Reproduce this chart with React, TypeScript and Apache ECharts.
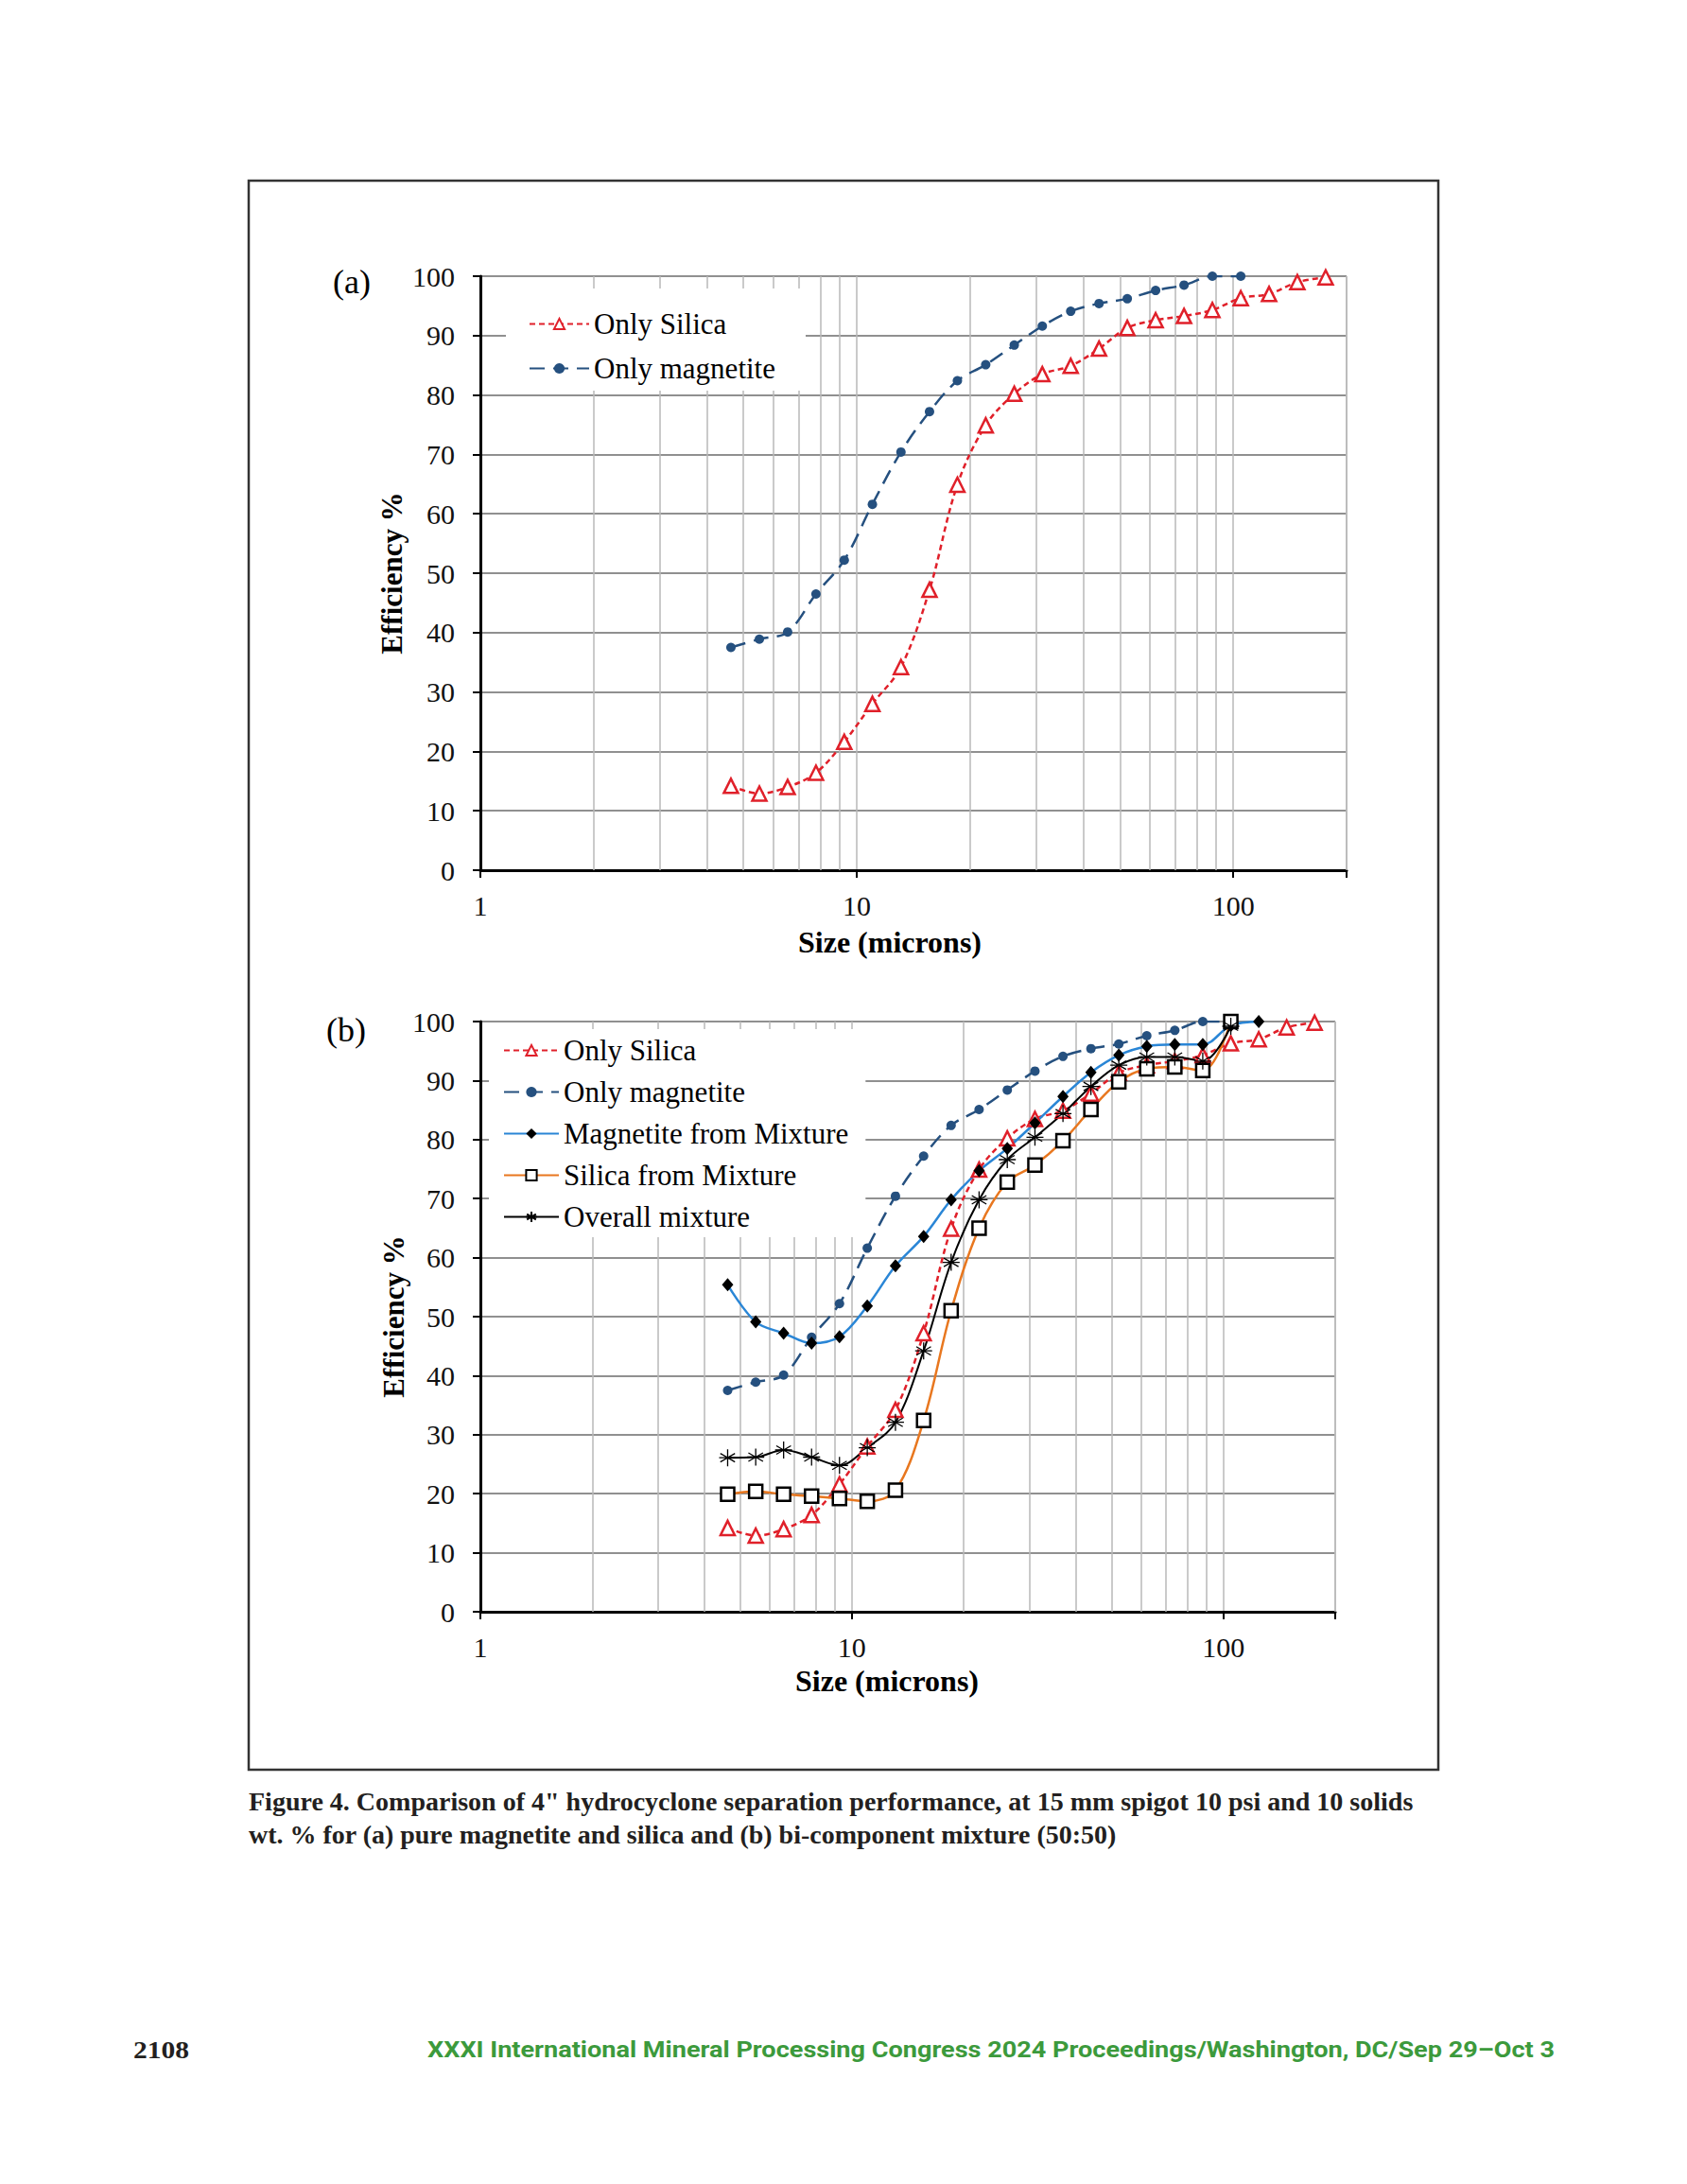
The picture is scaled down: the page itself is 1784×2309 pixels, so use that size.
import React, { useEffect, useRef } from "react";
import * as echarts from "echarts";

const SERIF = "'Liberation Serif', 'Times New Roman', serif";

// Particle sizes (microns)
const sizes = [4.63, 5.51, 6.55, 7.79, 9.26, 11.0, 13.1, 15.6, 18.5, 22.0, 26.2, 31.1, 37.0, 44.0, 52.3, 62.2, 74.0, 88.0, 104.7, 124.5, 148.0, 176.0];

// Efficiency % values
const onlySilica = [14.2, 12.9, 14.0, 16.4, 21.6, 28.0, 34.2, 47.2, 64.9, 74.9, 80.2, 83.5, 84.9, 87.8, 91.3, 92.6, 93.3, 94.3, 96.3, 97.0, 99.0, 99.8];
const onlyMagnetite = [37.5, 38.9, 40.1, 46.5, 52.2, 61.6, 70.4, 77.2, 82.4, 85.1, 88.4, 91.6, 94.1, 95.4, 96.2, 97.6, 98.5, 100, 100];
const magnetiteMix = [55.4, 49.1, 47.2, 45.5, 46.6, 51.8, 58.6, 63.6, 69.8, 74.7, 78.5, 82.8, 87.3, 91.4, 94.3, 95.8, 96.1, 96.1, 99.3, 100];
const silicaMix = [19.9, 20.4, 19.9, 19.6, 19.2, 18.7, 20.6, 32.4, 51.0, 65.0, 72.8, 75.7, 79.8, 85.1, 89.8, 92.0, 92.3, 91.7, 100];
const overallMix = [26.1, 26.2, 27.4, 26.2, 24.8, 27.8, 32.1, 44.2, 59.2, 69.8, 76.6, 80.4, 84.4, 89.0, 92.6, 94.0, 94.0, 93.3, 99.2];

const xMajorLabels = [1, 10, 100];
const xMinorGrid = [2, 3, 4, 5, 6, 7, 8, 9, 20, 30, 40, 50, 60, 70, 80, 90, 200];

const legendA = ["Only Silica", "Only magnetite"];
const legendB = ["Only Silica", "Only magnetite", "Magnetite from Mixture", "Silica from Mixture", "Overall mixture"];

const captionLine1 = 'Figure 4. Comparison of 4" hydrocyclone separation performance, at 15 mm spigot 10 psi and 10 solids';
const captionLine2 = "wt. % for (a) pure magnetite and silica and (b) bi-component mixture (50:50)";
const footerText = "XXXI International Mineral Processing Congress 2024 Proceedings/Washington, DC/Sep 29\u2013Oct 3";
const pageNumber = "2108";

const pairs = (vals: number[]) => vals.map((v, i) => [sizes[i], v]);

const ASTERISK = "path://M5,0L5,10M0.7,2.5L9.3,7.5M0.7,7.5L9.3,2.5M0,5L10,5";

function fitScale(text: string, font: string, target: number) {
  try {
    const c = document.createElement("canvas").getContext("2d");
    if (!c) return 1;
    c.font = font;
    const w = c.measureText(text).width;
    return w > 0 ? target / w : 1;
  } catch (e) {
    return 1;
  }
}

function makeX(gi: number) {
  return {
    type: "log",
    logBase: 10,
    min: 1,
    max: 200,
    gridIndex: gi,
    axisLine: { show: true, onZero: false, lineStyle: { color: "#000", width: 3 } },
    axisTick: { show: true, length: 8, lineStyle: { color: "#000", width: 2 } },
    axisLabel: {
      margin: 22,
      fontFamily: SERIF,
      fontSize: 30,
      color: "#111",
      formatter: (v: number) => (xMajorLabels.includes(Math.round(v)) ? String(Math.round(v)) : ""),
    },
    splitLine: { show: true, lineStyle: { color: "#b8b8b8", width: 1.5 } },
    minorTick: { show: false },
    minorSplitLine: { show: false },
  };
}

function makeY(gi: number) {
  return {
    type: "value",
    min: 0,
    max: 100,
    interval: 10,
    gridIndex: gi,
    axisLine: { show: true, lineStyle: { color: "#000", width: 3 } },
    axisTick: { show: true, length: 8, lineStyle: { color: "#000", width: 2 } },
    axisLabel: { margin: 27, fontFamily: SERIF, fontSize: 30, color: "#111" },
    splitLine: { show: true, lineStyle: { color: "#909090", width: 2 } },
  };
}

function gridSeries(gi: number) {
  return {
    type: "line",
    xAxisIndex: gi,
    yAxisIndex: gi,
    data: [],
    z: 1,
    silent: true,
    markLine: {
      z: 1,
      silent: true,
      symbol: ["none", "none"],
      label: { show: false },
      emphasis: { disabled: true },
      lineStyle: { color: "#b8b8b8", width: 1.5, type: "solid" },
      data: xMinorGrid.map((v) => ({ xAxis: v })),
    },
  };
}

const silicaStyle = {
  name: "Only Silica",
  type: "line",
  smooth: 0.35,
  symbol: "triangle",
  symbolSize: 15,
  lineStyle: { color: "#e0202a", width: 2.5, type: [6, 4] },
  itemStyle: { color: "#ffffff", borderColor: "#e0202a", borderWidth: 2.5 },
  z: 3,
};
const magnetiteStyle = {
  name: "Only magnetite",
  type: "line",
  smooth: 0.35,
  symbol: "circle",
  symbolSize: 10,
  lineStyle: { color: "#25507f", width: 2.5, type: [16, 9] },
  itemStyle: { color: "#25507f", borderColor: "#25507f", borderWidth: 0 },
  z: 3,
};

export default function App() {
  const ref = useRef<HTMLDivElement>(null);
  useEffect(() => {
    document.body.style.margin = "0";
    const chart = echarts.init(ref.current!, null, { renderer: "svg" });

    const capFont = `bold 27px ${SERIF}`;
    const footFont = "bold 24px Roboto, 'Liberation Sans', sans-serif";
    const pageFont = `bold 26px ${SERIF}`;
    const s1 = fitScale(captionLine1, capFont, 1232);
    const s2 = fitScale(captionLine2, capFont, 918);
    const sf = fitScale(footerText, footFont, 1193);
    const sp = fitScale(pageNumber, pageFont, 59);

    const legendBase = {
      orient: "vertical",
      backgroundColor: "#ffffff",
      textStyle: { fontFamily: SERIF, fontSize: 31, color: "#000" },
      itemHeight: 14,
      selectedMode: false,
      z: 10,
    };

    const center = { align: "center", verticalAlign: "middle", textAlign: "center", textVerticalAlign: "middle" };
    const leftMid = { align: "left", verticalAlign: "middle", textAlign: "left", textVerticalAlign: "middle" };

    const option: any = {
      animation: false,
      backgroundColor: "#ffffff",
      grid: [
        { left: 508, top: 292, width: 916, height: 628 },
        { left: 508, top: 1080, width: 904, height: 624 },
      ],
      xAxis: [makeX(0), makeX(1)],
      yAxis: [makeY(0), makeY(1)],
      legend: [
        {
          ...legendBase,
          data: legendA,
          left: 535,
          top: 305,
          padding: [22, 32, 8, 24],
          itemWidth: 63,
          itemGap: 16,
        },
        {
          ...legendBase,
          data: legendB,
          left: 517,
          top: 1088,
          padding: [7, 18, 6, 15],
          itemWidth: 58,
          itemGap: 13,
        },
      ],
      series: [
        gridSeries(0),
        gridSeries(1),
        { ...silicaStyle, xAxisIndex: 0, yAxisIndex: 0, data: pairs(onlySilica) },
        { ...magnetiteStyle, xAxisIndex: 0, yAxisIndex: 0, data: pairs(onlyMagnetite) },
        { ...silicaStyle, xAxisIndex: 1, yAxisIndex: 1, data: pairs(onlySilica) },
        { ...magnetiteStyle, xAxisIndex: 1, yAxisIndex: 1, data: pairs(onlyMagnetite) },
        {
          name: "Magnetite from Mixture",
          type: "line",
          xAxisIndex: 1,
          yAxisIndex: 1,
          smooth: 0.35,
          symbol: "diamond",
          symbolSize: [12, 14],
          lineStyle: { color: "#2a86d6", width: 2.5 },
          itemStyle: { color: "#000", borderColor: "#000", borderWidth: 0 },
          data: pairs(magnetiteMix),
          z: 3,
        },
        {
          name: "Silica from Mixture",
          type: "line",
          xAxisIndex: 1,
          yAxisIndex: 1,
          smooth: 0.35,
          symbol: "rect",
          symbolSize: 14,
          lineStyle: { color: "#e8771f", width: 2.5 },
          itemStyle: { color: "#ffffff", borderColor: "#000", borderWidth: 2.5 },
          data: pairs(silicaMix),
          z: 3,
        },
        {
          name: "Overall mixture",
          type: "line",
          xAxisIndex: 1,
          yAxisIndex: 1,
          smooth: 0.35,
          symbol: ASTERISK,
          symbolSize: 18,
          lineStyle: { color: "#000", width: 2 },
          itemStyle: { color: "#000", borderColor: "#000", borderWidth: 1.3 },
          data: pairs(overallMix),
          z: 3,
        },
      ],
      graphic: [
        {
          type: "rect",
          shape: { x: 263, y: 191, width: 1258, height: 1680 },
          style: { fill: "none", stroke: "#333", lineWidth: 2.5 },
          z: 0,
        },
        { type: "text", x: 372, y: 298, style: { text: "(a)", font: `36px ${SERIF}`, fill: "#000", ...center } },
        { type: "text", x: 366, y: 1089, style: { text: "(b)", font: `36px ${SERIF}`, fill: "#000", ...center } },
        {
          type: "text",
          x: 414,
          y: 606,
          rotation: Math.PI / 2,
          style: { text: "Efficiency %", font: `bold 31px ${SERIF}`, fill: "#000", ...center },
        },
        {
          type: "text",
          x: 416,
          y: 1392,
          rotation: Math.PI / 2,
          style: { text: "Efficiency %", font: `bold 31px ${SERIF}`, fill: "#000", ...center },
        },
        { type: "text", x: 941, y: 996, style: { text: "Size (microns)", font: `bold 32px ${SERIF}`, fill: "#000", ...center } },
        { type: "text", x: 938, y: 1777, style: { text: "Size (microns)", font: `bold 32px ${SERIF}`, fill: "#000", ...center } },
        { type: "text", x: 263, y: 1905, scaleX: s1, style: { text: captionLine1, font: capFont, fill: "#231f20", ...leftMid } },
        { type: "text", x: 263, y: 1940, scaleX: s2, style: { text: captionLine2, font: capFont, fill: "#231f20", ...leftMid } },
        { type: "text", x: 141, y: 2167, scaleX: sp, style: { text: pageNumber, font: pageFont, fill: "#231f20", ...leftMid } },
        { type: "text", x: 452, y: 2167, scaleX: sf, style: { text: footerText, font: footFont, fill: "#3c9a3c", ...leftMid } },
      ],
    };

    chart.setOption(option);
    return () => chart.dispose();
  }, []);
  return (
    <div
      ref={ref}
      style={{ position: "absolute", left: 0, top: 0, width: 1784, height: 2309, background: "#fff" }}
    />
  );
}
